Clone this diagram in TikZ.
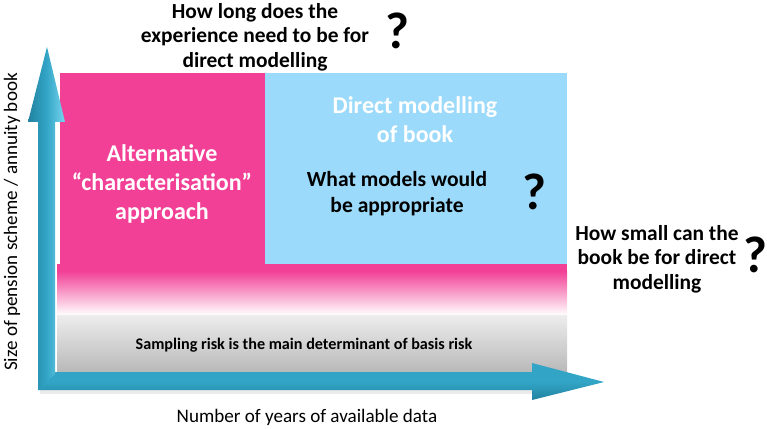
\documentclass[tikz,border=0pt]{standalone}
\usepackage{fontspec}
\setmainfont{Carlito}
\usetikzlibrary{calc}

\definecolor{bookpink}{RGB}{242,64,150}
\definecolor{booksky}{RGB}{155,218,250}
\definecolor{axisdark}{RGB}{34,130,160}
\definecolor{axismid}{RGB}{50,165,198}
\definecolor{axislight}{RGB}{120,212,238}

\tikzset{
  question/.style={font=\bfseries\fontsize{18.3}{21}\selectfont, align=center},
  qmark/.style={font=\bfseries\fontsize{44}{44}\selectfont, inner sep=0pt},
  blocktext/.style={font=\bfseries\fontsize{20.5}{24.5}\selectfont, align=center, text=white},
  axislabel/.style={font=\fontsize{16.3}{18}\selectfont}
}

\begin{document}
\begin{tikzpicture}[x=0.03cm,y=-0.03cm]
  \useasboundingbox (0,0) rectangle (767,429);
  % the two regions of the plane
  \fill [bookpink] (60,73) rectangle (265,265);
  \fill [booksky] (265,73) rectangle (567,265);
  % band along the bottom
  \fill [bookpink] (57,264) rectangle (567,271);
  \shade [top color=bookpink, bottom color=white] (57,271) rectangle (567,315);
  \shade [top color=black!7, bottom color=black!28] (57,315) rectangle (567,373);
  \node [font=\bfseries\fontsize{13.8}{16}\selectfont] (sampling) at (304,345) {Sampling risk is the main determinant of basis risk};
  % axes
  \fill [black!8] (40,390) -- (532,390) -- (532,394) -- (40,394) -- cycle;
  \shade [top color=axismid, bottom color=axisdark, middle color=axismid]
    (38,372) -- (532,372) -- (532,363) -- (604,382) -- (532,400) -- (532,390) -- (38,390) -- cycle;
  \shade [left color=axisdark, right color=axislight, middle color=axismid]
    (38,390) -- (38,122) -- (28,122) -- (47,47) -- (65,122) -- (55,122) -- (55,374) -- cycle;
  \node [axislabel, rotate=90] (ylab) at (12,222) {Size of pension scheme / annuity book};
  \node [axislabel] (xlab) at (307,417) {Number of years of available data};
  % texts in the regions
  \node [blocktext] (alt) at (162,184) {Alternative\\“characterisation”\\approach};
  \node [blocktext] (direct) at (415,120) {Direct modelling\\of book};
  \node [question, font=\bfseries\fontsize{18.4}{22}\selectfont] (models) at (397,194) {What models would\\be appropriate};
  \node [qmark] (modelsq) at (534,192) {?};
  % open questions
  \node [question] (howlong) at (255,37) {How long does the\\experience need to be for\\direct modelling};
  \node [qmark] (howlongq) at (397,31) {?};
  \node [question] (howsmall) at (657,259) {How small can the\\book be for direct\\modelling};
  \node [qmark] (howsmallq) at (755,255) {?};
\end{tikzpicture}
\end{document}
